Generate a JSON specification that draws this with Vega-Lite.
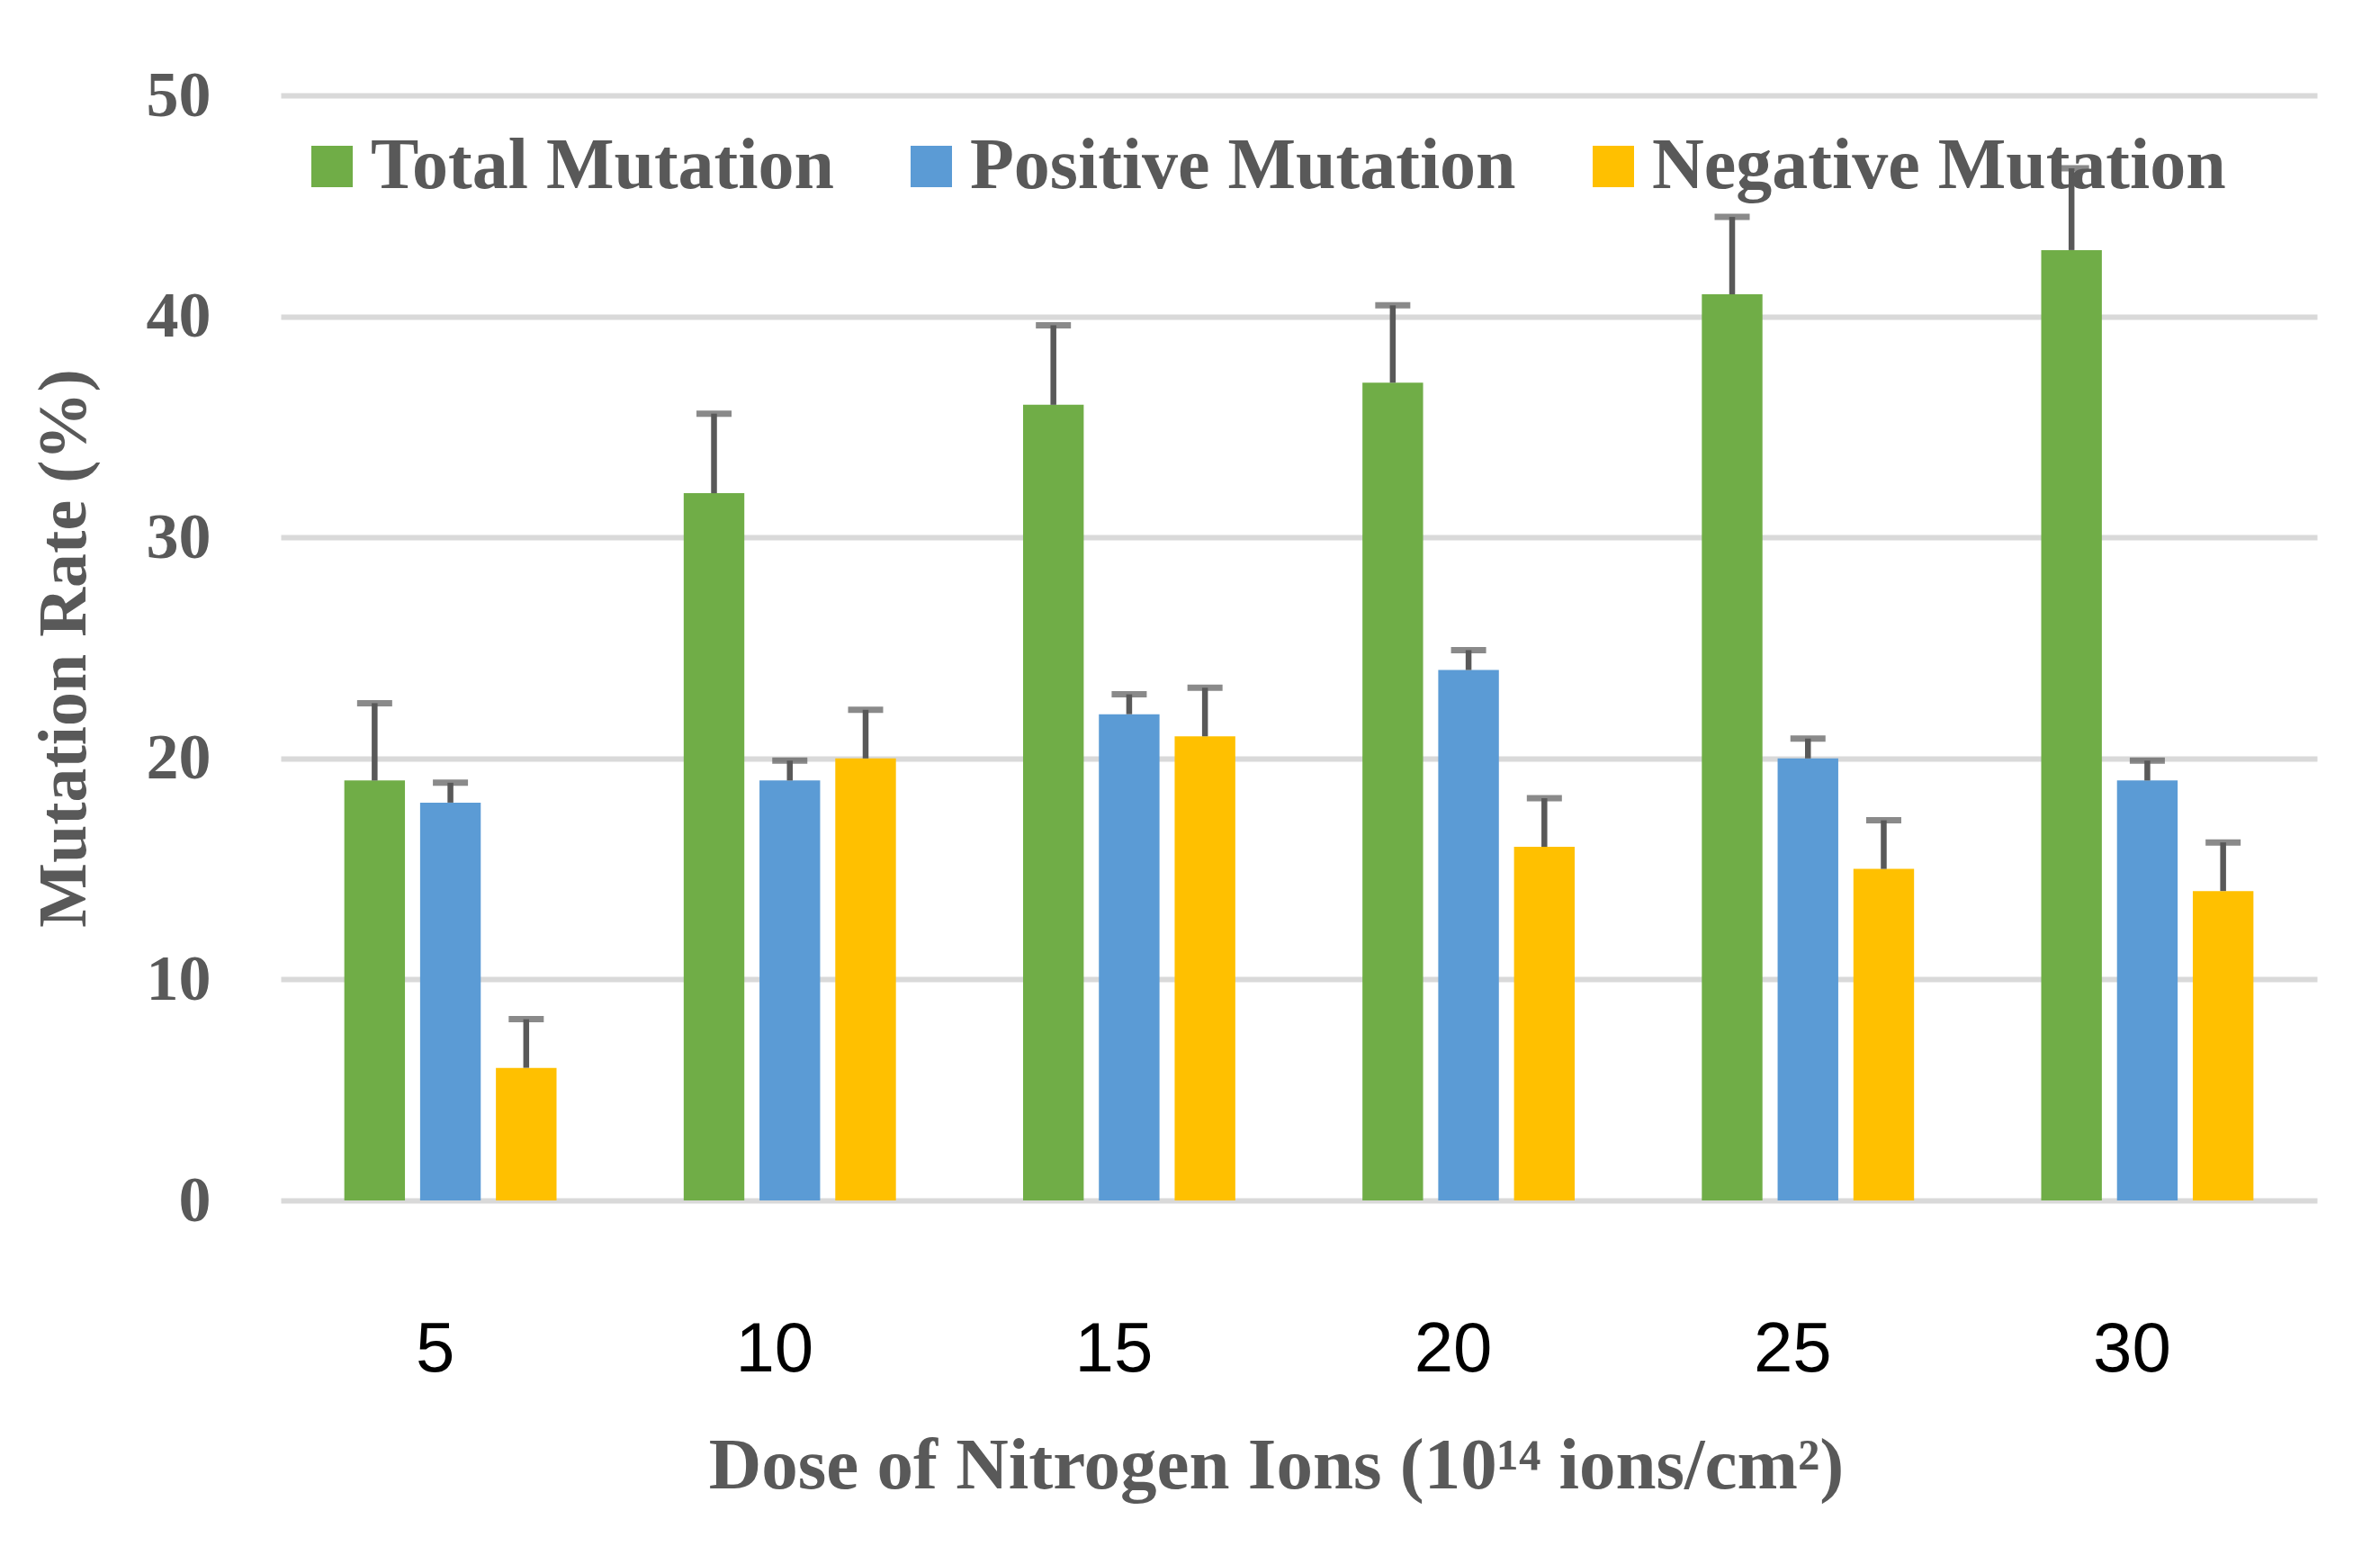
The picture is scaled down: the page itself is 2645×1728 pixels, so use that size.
{
  "$schema": "https://vega.github.io/schema/vega-lite/v6.json",
  "width": 2263,
  "height": 1228,
  "autosize": {"type": "none"},
  "padding": {"left": 312, "top": 106, "right": 70, "bottom": 394},
  "background": "white",
  "data": {
    "values": [
      {"dose": "5", "series": "Total Mutation", "value": 19, "upper": 22.5},
      {"dose": "5", "series": "Positive Mutation", "value": 18, "upper": 18.9},
      {"dose": "5", "series": "Negative Mutation", "value": 6, "upper": 8.2},
      {"dose": "10", "series": "Total Mutation", "value": 32, "upper": 35.6},
      {"dose": "10", "series": "Positive Mutation", "value": 19, "upper": 19.9},
      {"dose": "10", "series": "Negative Mutation", "value": 20, "upper": 22.2},
      {"dose": "15", "series": "Total Mutation", "value": 36, "upper": 39.6},
      {"dose": "15", "series": "Positive Mutation", "value": 22, "upper": 22.9},
      {"dose": "15", "series": "Negative Mutation", "value": 21, "upper": 23.2},
      {"dose": "20", "series": "Total Mutation", "value": 37, "upper": 40.5},
      {"dose": "20", "series": "Positive Mutation", "value": 24, "upper": 24.9},
      {"dose": "20", "series": "Negative Mutation", "value": 16, "upper": 18.2},
      {"dose": "25", "series": "Total Mutation", "value": 41, "upper": 44.5},
      {"dose": "25", "series": "Positive Mutation", "value": 20, "upper": 20.9},
      {"dose": "25", "series": "Negative Mutation", "value": 15, "upper": 17.2},
      {"dose": "30", "series": "Total Mutation", "value": 43, "upper": 46.7},
      {"dose": "30", "series": "Positive Mutation", "value": 19, "upper": 19.9},
      {"dose": "30", "series": "Negative Mutation", "value": 14, "upper": 16.2}
    ]
  },
  "encoding": {
    "x": {
      "field": "dose",
      "type": "ordinal",
      "sort": ["5", "10", "15", "20", "25", "30"],
      "scale": {"paddingInner": 0.33, "paddingOuter": 0.165},
      "axis": {
        "labelAngle": 0,
        "domain": false,
        "ticks": false,
        "grid": false,
        "labelPadding": 127,
        "labelOffset": -17,
        "labelFont": "Liberation Sans",
        "labelFontSize": 78,
        "labelColor": "#000000",
        "title": "Dose of Nitrogen Ions (10¹⁴ ions/cm²)",
        "titleFont": "Liberation Serif",
        "titleFontWeight": "bold",
        "titleFontSize": 81,
        "titleColor": "#595959",
        "titleX": 1106,
        "titleY": 319,
        "titleAlign": "center",
        "titleBaseline": "alphabetic"
      }
    },
    "xOffset": {
      "field": "series",
      "type": "nominal",
      "sort": ["Total Mutation", "Positive Mutation", "Negative Mutation"],
      "scale": {"paddingInner": 0.2, "paddingOuter": 0.1}
    }
  },
  "layer": [
    {
      "mark": {"type": "bar"},
      "encoding": {
        "y": {
          "field": "value",
          "type": "quantitative",
          "scale": {"domain": [0, 50], "nice": false},
          "axis": {
            "values": [0, 10, 20, 30, 40, 50],
            "grid": true,
            "gridColor": "#d9d9d9",
            "gridWidth": 6,
            "domain": false,
            "ticks": false,
            "labelPadding": 78,
            "labelFont": "Liberation Serif",
            "labelFontWeight": "bold",
            "labelFontSize": 72,
            "labelColor": "#595959",
            "title": "Mutation Rate (%)",
            "titleFont": "Liberation Serif",
            "titleFontWeight": "bold",
            "titleFontSize": 76,
            "titleColor": "#595959",
            "titleX": -241,
            "titleY": 614,
            "titleAngle": -90,
            "titleAlign": "center",
            "titleBaseline": "middle"
          }
        },
        "color": {
          "field": "series",
          "type": "nominal",
          "sort": ["Total Mutation", "Positive Mutation", "Negative Mutation"],
          "scale": {
            "domain": ["Total Mutation", "Positive Mutation", "Negative Mutation"],
            "range": ["#70AD47", "#5B9BD5", "#FFC000"]
          },
          "legend": {
            "title": null,
            "orient": "none",
            "legendX": 17,
            "legendY": 39,
            "direction": "horizontal",
            "symbolType": "square",
            "symbolSize": 2116,
            "symbolStrokeWidth": 0,
            "labelFont": "Liberation Serif",
            "labelFontWeight": "bold",
            "labelFontSize": 80,
            "labelColor": "#595959",
            "labelOffset": 3,
            "labelLimit": 1000,
            "columnPadding": 68,
            "padding": 0
          }
        }
      }
    },
    {
      "mark": {"type": "rule", "color": "#595959", "strokeWidth": 6.5},
      "encoding": {
        "y": {"field": "value", "type": "quantitative"},
        "y2": {"field": "upper"}
      }
    },
    {
      "mark": {"type": "tick", "color": "#595959", "thickness": 7, "size": 39},
      "encoding": {
        "y": {"field": "upper", "type": "quantitative"}
      }
    }
  ],
  "config": {
    "view": {"stroke": null}
  }
}
